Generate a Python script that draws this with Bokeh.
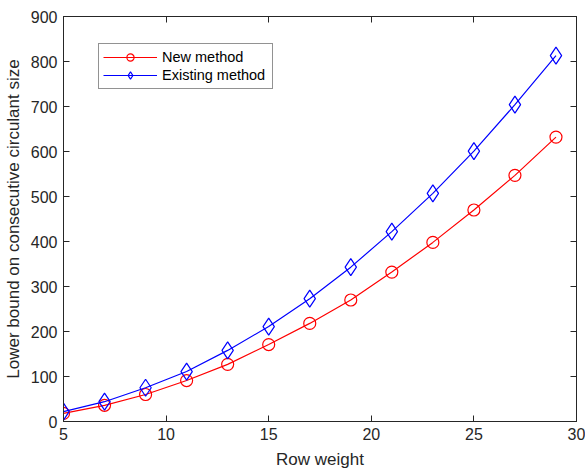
from bokeh.plotting import figure
from bokeh.models import LinearAxis, Range1d, FixedTicker, Legend, LegendItem
from bokeh.embed import file_html
from bokeh.resources import INLINE

row_weight = [5, 7, 9, 11, 13, 15, 17, 19, 21, 23, 25, 27, 29]
new_method = [18, 36, 60, 91, 127, 171, 218, 270, 332, 398, 470, 547, 632]
existing_method = [22, 44, 75, 111, 158, 211, 273, 343, 422, 507, 601, 704, 813]
x_ticks = [5, 10, 15, 20, 25, 30]
y_ticks = [0, 100, 200, 300, 400, 500, 600, 700, 800, 900]

FONT = "Liberation Sans"
AX = "#262626"

p = figure(width=585, height=472, output_backend="svg", toolbar_location=None,
           x_range=Range1d(5, 30), y_range=Range1d(0, 900),
           min_border_left=63, min_border_right=9, min_border_top=16, min_border_bottom=51)
p.xgrid.visible = False
p.ygrid.visible = False
p.outline_line_color = AX
p.background_fill_color = "white"

for ax in (p.xaxis[0], p.yaxis[0]):
    ax.major_tick_in = 6
    ax.major_tick_out = 0
    ax.minor_tick_line_color = None
    ax.axis_line_color = AX
    ax.major_tick_line_color = AX
    ax.major_label_text_font = FONT
    ax.major_label_text_font_size = "16px"
    ax.major_label_text_color = "#262626"
    ax.axis_label_text_font = FONT
    ax.axis_label_text_font_size = "17px"
    ax.axis_label_text_font_style = "normal"
    ax.axis_label_text_color = "#262626"
p.xaxis[0].ticker = FixedTicker(ticks=x_ticks)
p.yaxis[0].ticker = FixedTicker(ticks=y_ticks)
p.xaxis[0].axis_label = "Row weight"
p.yaxis[0].axis_label = "Lower bound on consecutive circulant size"
p.xaxis[0].major_label_standoff = 6
p.yaxis[0].major_label_standoff = 6
p.xaxis[0].axis_label_standoff = 7
p.yaxis[0].axis_label_standoff = 5

top = LinearAxis(ticker=FixedTicker(ticks=x_ticks), major_tick_in=6, major_tick_out=0,
                 minor_tick_line_color=None, major_label_text_font_size="1px",
                 major_label_text_color=None,
                 axis_line_color=AX, major_tick_line_color=AX, major_label_standoff=0)
right = LinearAxis(ticker=FixedTicker(ticks=y_ticks), major_tick_in=6, major_tick_out=0,
                   minor_tick_line_color=None, major_label_text_font_size="1px",
                   major_label_text_color=None,
                   axis_line_color=AX, major_tick_line_color=AX, major_label_standoff=0)
p.add_layout(top, "above")
p.add_layout(right, "right")

r1 = p.line(row_weight, new_method, color="#FF0000", line_width=1.2)
m1 = p.scatter(row_weight, new_method, marker="circle", size=12, line_color="#FF0000",
               fill_color=None, line_width=1.2)
r2 = p.line(row_weight, existing_method, color="#0000FF", line_width=1.2)
m2 = p.scatter(row_weight, existing_method, marker="diamond", size=17, line_color="#0000FF",
               fill_color=None, line_width=1.2)

legend = Legend(items=[LegendItem(label="New method", renderers=[r1, m1]),
                       LegendItem(label="Existing method", renderers=[r2, m2])],
                location=(35, 332), label_text_font=FONT, label_text_font_size="14.5px",
                label_text_color="#000000", glyph_width=54, glyph_height=18,
                label_height=18, label_width=106,
                spacing=0, padding=4, margin=0, label_standoff=5,
                border_line_color=AX, border_line_width=1, background_fill_alpha=1)
p.add_layout(legend, "center")

open("out.html", "w").write(file_html(p, INLINE))
